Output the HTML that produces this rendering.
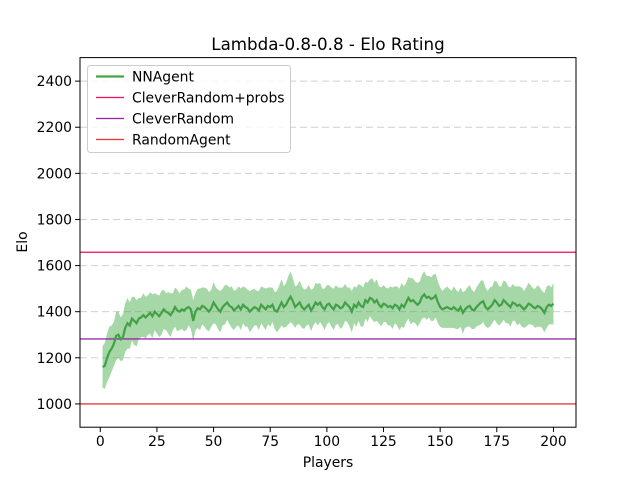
<!DOCTYPE html>
<html><head><meta charset="utf-8"><style>
body{margin:0;background:#fff}
svg text{font-family:"DejaVu Sans","Liberation Sans",sans-serif;fill:#000}
</style></head><body>
<svg id="c" width="640" height="480" viewBox="0 0 640 480" xmlns="http://www.w3.org/2000/svg"></svg>
<script>
const playerCount = 200;
const nnMean = [
1160,1165,1200,1225,1240,1260,1295,1300,1280,1290,
1330,1350,1340,1370,1360,1350,1370,1375,1385,1375,
1385,1395,1380,1400,1390,1380,1395,1410,1400,1395,
1385,1400,1420,1405,1400,1410,1405,1415,1420,1410,
1360,1400,1415,1410,1425,1420,1410,1400,1415,1440,
1425,1410,1400,1420,1430,1440,1425,1420,1405,1415,
1425,1410,1430,1420,1415,1400,1410,1420,1415,1405,
1430,1420,1410,1425,1420,1430,1405,1400,1420,1440,
1420,1430,1450,1465,1445,1420,1430,1440,1420,1410,
1420,1430,1405,1420,1440,1430,1440,1420,1410,1430,
1435,1420,1410,1430,1425,1415,1420,1440,1430,1420,
1400,1430,1420,1440,1425,1420,1450,1440,1460,1455,
1440,1450,1430,1420,1435,1430,1420,1425,1415,1430,
1425,1410,1430,1420,1440,1460,1445,1450,1440,1430,
1440,1465,1475,1460,1465,1455,1460,1470,1440,1420,
1410,1415,1420,1415,1410,1420,1410,1405,1420,1395,
1410,1420,1425,1410,1405,1420,1430,1440,1445,1420,
1410,1420,1430,1450,1440,1425,1430,1450,1440,1430,
1420,1440,1435,1425,1430,1420,1410,1420,1435,1430,
1420,1415,1425,1420,1410,1395,1420,1430,1425,1435];
const nnStd = [
90,100,105,110,100,95,105,100,95,100,
105,110,100,95,105,100,90,85,95,90,
85,90,95,80,85,90,95,85,80,90,
95,80,85,90,80,85,90,95,80,85,
90,80,85,90,80,85,90,85,80,90,
80,85,90,80,85,75,80,90,85,80,
85,90,80,85,80,90,85,80,75,85,
80,85,90,80,85,75,80,90,95,100,
90,95,105,110,100,90,85,95,90,85,
80,85,90,80,85,90,85,80,90,85,
80,85,90,85,80,90,85,80,75,85,
90,80,85,80,90,85,80,85,80,90,
85,90,80,85,80,75,80,85,90,80,
85,90,95,90,85,90,100,95,90,95,
90,95,100,95,90,95,100,95,90,85,
80,85,90,85,80,90,85,80,85,90,
80,85,90,85,80,85,90,95,90,85,
80,85,80,85,90,85,80,85,90,80,
85,80,75,85,80,85,80,85,90,85,
80,85,90,85,80,85,90,85,80,90];
const refNames = ["CleverRandom+probs","CleverRandom","RandomAgent"];
const refValues = [1658,1282,1000];
const refColors = ["#ee1166","#9922aa","#ee3333"];
const xTicks = [0,25,50,75,100,125,150,175,200];
const yTicks = [1000,1200,1400,1600,1800,2000,2200,2400];

const NS="http://www.w3.org/2000/svg", svg=document.getElementById('c');
const L=80,R=576,T=57.6,B=427.2, X0=-8.95,X1=209.95, Y0=899,Y1=2502;
const xs=v=>L+(v-X0)/(X1-X0)*(R-L), ys=v=>B-(v-Y0)/(Y1-Y0)*(B-T);
function mk(tag,attrs,parent){const e=document.createElementNS(NS,tag);for(const k in attrs)e.setAttribute(k,attrs[k]);(parent||svg).appendChild(e);return e;}

yTicks.forEach(v=>{
  const g=mk('line',{x1:L,x2:R,y1:ys(v),y2:ys(v),stroke:'#b0b0b0','stroke-opacity':0.6,'stroke-dasharray':'7,4','stroke-width':1});
  
  
});
let up=[],lo=[];
for(let i=0;i<playerCount;i++){up.push(xs(i+1)+','+ys(nnMean[i]+nnStd[i]));lo.unshift(xs(i+1)+','+ys(nnMean[i]-nnStd[i]));}
const band=mk('polygon',{points:up.concat(lo).join(' '),fill:'#4caf50','fill-opacity':0.5});


refValues.forEach((v,i)=>{
  const l=mk('rect',{x:L,y:ys(v)-0.6,width:R-L,height:1.3,fill:refColors[i]});
  
  
});
const pts=nnMean.map((v,i)=>xs(i+1)+','+ys(v)).join(' ');
const ml=mk('polyline',{points:pts,fill:'none',stroke:'#43a047','stroke-width':2.2});


const fr=mk('rect',{x:L,y:T,width:R-L,height:B-T,fill:'none',stroke:'#000','stroke-width':1});


xTicks.forEach(v=>{
  mk('line',{x1:xs(v),x2:xs(v),y1:B,y2:B+4.9,stroke:'#000'});
  const t=mk('text',{x:xs(v),y:B+19,'text-anchor':'middle','font-size':13.9});t.textContent=v;
  
  
});
yTicks.forEach(v=>{
  mk('line',{x1:L-4.9,x2:L,y1:ys(v),y2:ys(v),stroke:'#000'});
  const t=mk('text',{x:L-8,y:ys(v)+5,'text-anchor':'end','font-size':13.9});t.textContent=v;
  
  
});
let t=mk('text',{x:328,y:50,'text-anchor':'middle','font-size':16.7});t.textContent='Lambda-0.8-0.8 - Elo Rating';

t=mk('text',{x:328,y:467,'text-anchor':'middle','font-size':13.9});t.textContent='Players';

t=mk('text',{x:0,y:0,'text-anchor':'middle','font-size':13.9,transform:'translate(27,242) rotate(-90)'});t.textContent='Elo';

const lg=mk('rect',{x:87.5,y:65.5,width:203,height:87,rx:3,fill:'#fff','fill-opacity':0.8,stroke:'#ccc'});


const names=['NNAgent'].concat(refNames), cols=['#43a047'].concat(refColors);
names.forEach((n,i)=>{
  const y=76.5+i*21;
  mk('rect',{x:96,y:y-(i==0?1.1:0.65),width:28,height:i==0?2.2:1.3,fill:cols[i]});
  const tx=mk('text',{x:132,y:y+5,'font-size':13.9});tx.textContent=n;
  
  
});
</script>
</body></html>
